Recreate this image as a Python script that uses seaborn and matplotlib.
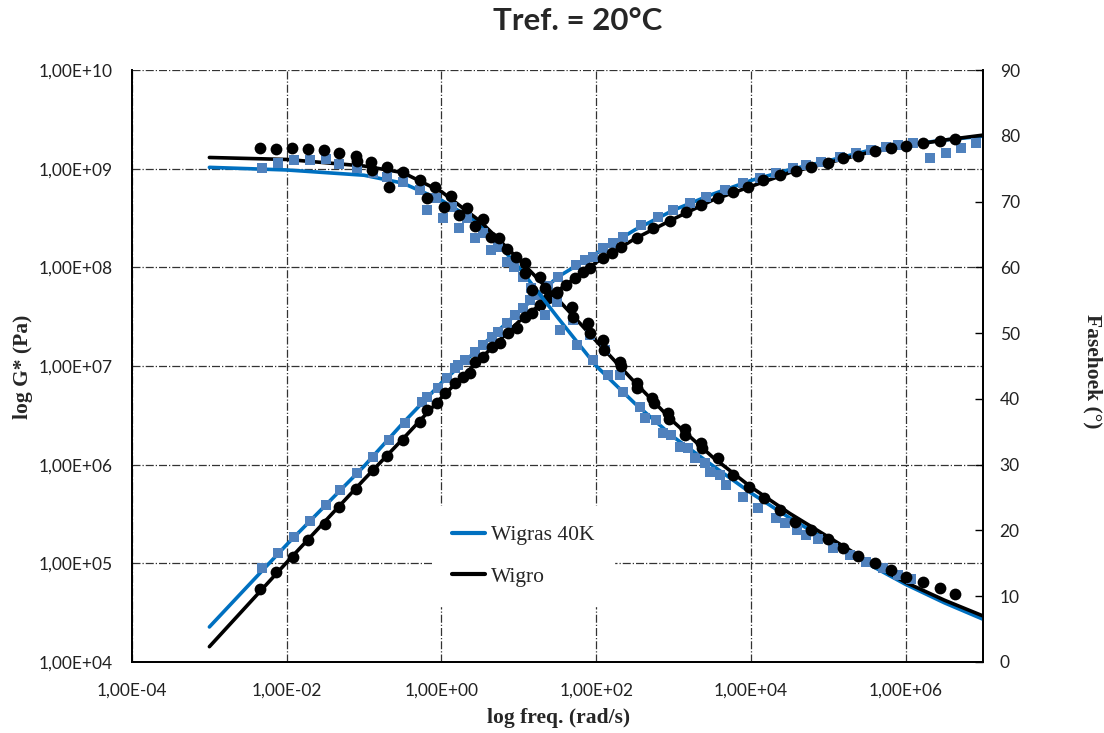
import numpy as np
import pandas as pd
import matplotlib
matplotlib.use("Agg")
import matplotlib.pyplot as plt
import seaborn as sns
from matplotlib.ticker import FixedLocator, FuncFormatter, NullLocator
from matplotlib.lines import Line2D

# --- data (log10 of frequency in rad/s) ---
# G* measured, Wigras 40K (blue squares): log10 f, log10 G*
wig_g_logf = [-2.314, -2.114, -1.907, -1.694, -1.494, -1.306, -1.093, -0.886, -0.680, -0.473,
              -0.253, -0.189, -0.047, 0.070, 0.173, 0.216, 0.302, 0.432, 0.539, 0.647, 0.733,
              0.841, 0.948, 1.056, 1.142, 1.249, 1.375, 1.508, 1.745, 1.853, 1.960, 2.089, 2.218,
              2.348, 2.585, 2.800, 2.994, 3.209, 3.425, 3.661, 3.898, 4.114, 4.329, 4.544, 4.717,
              4.911, 5.147, 5.363, 5.557, 5.751, 5.901, 6.094, 6.310, 6.526, 6.719, 6.913]
wig_g_logG = [4.950, 5.108, 5.270, 5.426, 5.594, 5.748, 5.912, 6.073, 6.250, 6.427,
              6.630, 6.686, 6.774, 6.878, 6.977, 7.010, 7.061, 7.145, 7.213, 7.297, 7.348,
              7.433, 7.517, 7.585, 7.669, 7.719, 7.810, 7.905, 8.024, 8.074, 8.108, 8.193, 8.243,
              8.310, 8.429, 8.513, 8.581, 8.649, 8.716, 8.784, 8.851, 8.902, 8.953, 9.004, 9.037,
              9.071, 9.121, 9.156, 9.189, 9.223, 9.240, 9.257, 9.111, 9.156, 9.206, 9.257]

# G* measured, Wigro (black circles)
wgo_g_logf = [-2.340, -2.140, -1.924, -1.722, -1.506, -1.322, -1.106, -0.890, -0.709, -0.495,
              -0.279, -0.193, -0.063, 0.044, 0.173, 0.280, 0.367, 0.432, 0.539, 0.647, 0.755,
              0.862, 0.970, 1.078, 1.164, 1.271, 1.375, 1.487, 1.616, 1.724, 1.831, 1.917, 2.089,
              2.198, 2.327, 2.521, 2.735, 2.951, 3.167, 3.361, 3.575, 3.769, 3.963, 4.157, 4.372,
              4.588, 4.782, 4.996, 5.190, 5.384, 5.600, 5.815, 6.009, 6.224, 6.439, 6.633]
wgo_g_logG = [4.737, 4.915, 5.067, 5.236, 5.399, 5.574, 5.750, 5.946, 6.088, 6.250,
              6.435, 6.554, 6.622, 6.730, 6.825, 6.892, 6.926, 7.044, 7.094, 7.196, 7.230,
              7.331, 7.382, 7.500, 7.534, 7.618, 7.689, 7.753, 7.821, 7.889, 7.956, 7.990, 8.091,
              8.142, 8.209, 8.300, 8.395, 8.469, 8.558, 8.632, 8.706, 8.766, 8.817, 8.885, 8.936,
              8.976, 9.020, 9.054, 9.105, 9.131, 9.179, 9.206, 9.233, 9.257, 9.283, 9.300]

# phase angle measured, Wigras 40K (blue squares): log10 f, degrees
wig_p_logf = [-2.314, -2.114, -1.903, -1.696, -1.494, -1.326, -1.096, -0.889, -0.705, -0.492,
              -0.282, -0.191, -0.070, 0.019, 0.131, 0.231, 0.332, 0.432, 0.543, 0.643, 0.731,
              0.842, 0.942, 1.054, 1.160, 1.336, 1.487, 1.530, 1.702, 1.746, 1.917, 1.960, 2.111,
              2.154, 2.305, 2.348, 2.563, 2.628, 2.779, 2.864, 2.973, 3.080, 3.187, 3.274, 3.403,
              3.468, 3.597, 3.683, 3.898, 4.092, 4.330, 4.437, 4.596, 4.717, 4.867, 5.061, 5.276,
              5.492, 5.707, 5.900, 6.070]
wig_p_deg = [75.05, 75.81, 76.27, 76.27, 76.47, 75.78, 75.17, 74.29, 73.78, 73.02,
             71.75, 68.67, 70.49, 67.45, 69.22, 65.93, 67.57, 64.41, 65.29, 62.63, 63.13,
             60.85, 60.09, 58.57, 56.90, 52.75, 54.77, 50.47, 51.99, 48.19, 49.71, 45.91, 47.43,
             43.63, 43.63, 41.09, 38.81, 37.05, 36.79, 34.77, 34.51, 32.73, 32.49, 30.97, 30.21,
             28.93, 28.43, 26.91, 25.13, 23.37, 21.85, 21.09, 20.07, 19.31, 18.65, 17.29, 16.27,
             15.25, 14.24, 13.23, 12.55]

# phase angle measured, Wigro (black circles)
wgo_p_logf = [-2.340, -2.140, -1.926, -1.724, -1.517, -1.329, -1.106, -1.096, -0.907, -0.894,
              -0.709, -0.683, -0.499, -0.282, -0.186, -0.079, 0.028, 0.124, 0.225, 0.336, 0.432,
              0.537, 0.638, 0.742, 0.853, 0.965, 1.078, 1.078, 1.164, 1.271, 1.336, 1.487, 1.681,
              1.702, 1.895, 1.917, 2.089, 2.098, 2.305, 2.315, 2.521, 2.528, 2.727, 2.744, 2.929,
              2.942, 3.145, 3.145, 3.360, 3.373, 3.575, 3.769, 3.975, 4.165, 4.372, 4.566, 4.782,
              4.996, 5.190, 5.384, 5.600, 5.815, 6.009, 6.224, 6.439, 6.633]
wgo_p_deg = [78.09, 77.94, 78.09, 77.94, 77.79, 77.33, 76.88, 76.24, 76.01, 74.75,
             75.30, 72.26, 74.54, 73.34, 70.49, 72.26, 69.17, 70.87, 67.95, 69.09, 66.28,
             67.31, 64.66, 64.41, 62.75, 61.61, 60.61, 59.09, 56.55, 58.57, 56.81, 56.05, 54.01,
             52.49, 51.49, 49.97, 48.95, 47.43, 45.65, 45.00, 42.37, 41.61, 40.09, 39.33, 37.81,
             36.90, 35.38, 34.51, 33.25, 32.49, 30.97, 28.43, 26.65, 24.89, 23.11, 21.33, 20.07,
             18.65, 17.29, 16.11, 15.00, 13.99, 12.88, 12.12, 11.20, 10.34]

# model fit curves, read at these frequencies
fit_logf = [-3, -2, -1, -0.5, 0, 0.5, 1, 1.5, 2, 2.5, 3, 3.5, 4, 4.5, 5, 5.5, 6, 6.5, 7]
wig_fit_logG = [4.355, 5.19, 5.985, 6.42, 6.83, 7.19, 7.55, 7.90, 8.14, 8.38, 8.58, 8.74,
                8.88, 8.99, 9.08, 9.18, 9.24, 9.29, 9.33]
wgo_fit_logG = [4.155, 5.01, 5.85, 6.26, 6.68, 7.07, 7.45, 7.76, 8.05, 8.29, 8.49, 8.68,
                8.82, 8.96, 9.06, 9.16, 9.23, 9.29, 9.34]
wig_fit_deg = [75.2, 74.8, 74.0, 72.8, 70.2, 66.6, 60.0, 52.4, 45.0, 39.3, 34.2, 29.9,
               25.7, 21.9, 18.4, 15.0, 11.8, 9.0, 6.5]
wgo_fit_deg = [76.7, 76.4, 75.4, 74.4, 71.5, 67.0, 61.2, 55.2, 48.8, 42.5, 36.5, 31.2,
               26.6, 22.6, 19.0, 15.4, 12.1, 9.4, 7.0]

series_names = ["Wigras 40K", "Wigro"]
line_blue = "#0070C0"
marker_blue = "#4F81BD"

sns.set_style("white")
plt.rcParams["font.family"] = ["Liberation Serif", "DejaVu Serif"]

fig = plt.figure(figsize=(11.04, 7.33), dpi=100)
ax = fig.add_axes([0.1196, 0.0969, 0.7708, 0.8076])
ax2 = ax.twinx()

def to_df(logf, vals, log_vals=False):
    f = np.power(10.0, np.array(logf))
    v = np.power(10.0, np.array(vals)) if log_vals else np.array(vals)
    return pd.DataFrame({"freq": f, "val": v})

# left axis: G*
sns.lineplot(data=to_df(fit_logf, wig_fit_logG, True), x="freq", y="val", ax=ax,
             color=line_blue, lw=2.6, sort=False, zorder=2)
sns.lineplot(data=to_df(fit_logf, wgo_fit_logG, True), x="freq", y="val", ax=ax,
             color="black", lw=2.6, sort=False, zorder=2)
sns.scatterplot(data=to_df(wig_g_logf, wig_g_logG, True), x="freq", y="val", ax=ax,
                marker="s", s=62, color=marker_blue, linewidth=0, zorder=3)
sns.scatterplot(data=to_df(wgo_g_logf, wgo_g_logG, True), x="freq", y="val", ax=ax,
                marker="o", s=72, color="black", linewidth=0, zorder=4)

# right axis: phase angle
sns.lineplot(data=to_df(fit_logf, wig_fit_deg), x="freq", y="val", ax=ax2,
             color=line_blue, lw=2.6, sort=False, zorder=2)
sns.lineplot(data=to_df(fit_logf, wgo_fit_deg), x="freq", y="val", ax=ax2,
             color="black", lw=2.6, sort=False, zorder=2)
sns.scatterplot(data=to_df(wig_p_logf, wig_p_deg), x="freq", y="val", ax=ax2,
                marker="s", s=62, color=marker_blue, linewidth=0, zorder=3)
sns.scatterplot(data=to_df(wgo_p_logf, wgo_p_deg), x="freq", y="val", ax=ax2,
                marker="o", s=72, color="black", linewidth=0, zorder=4)

ax.set_xscale("log")
ax.set_yscale("log")
ax.set_xlim(1e-4, 1e7)
ax.set_ylim(1e4, 1e10)
ax2.set_ylim(0, 90)

def sci_comma(v, pos):
    e = int(round(np.log10(v)))
    return f"1,00E{e:+03d}"

ax.xaxis.set_major_locator(FixedLocator([10.0 ** k for k in range(-4, 7, 2)]))
ax.yaxis.set_major_locator(FixedLocator([10.0 ** k for k in range(4, 11)]))
ax.xaxis.set_minor_locator(NullLocator())
ax.yaxis.set_minor_locator(NullLocator())
ax.xaxis.set_major_formatter(FuncFormatter(sci_comma))
ax.yaxis.set_major_formatter(FuncFormatter(sci_comma))
ax2.yaxis.set_major_locator(FixedLocator(list(range(0, 91, 10))))

ax.grid(True, which="major", color="#333333", linestyle="-.", linewidth=0.9)
ax2.grid(False)

for lbl in ax.get_xticklabels() + ax.get_yticklabels() + ax2.get_yticklabels():
    lbl.set_fontfamily("Lato")
    lbl.set_fontsize(12.5)
    lbl.set_color("#222222")

ax.tick_params(axis="y", length=0, pad=14)
ax.tick_params(axis="x", length=0, pad=15)
ax2.tick_params(axis="y", direction="in", length=6, width=1, pad=12, color="black")

for a in (ax, ax2):
    a.spines["top"].set_visible(False)
    for side in ("left", "bottom", "right"):
        a.spines[side].set_color("black")
        a.spines[side].set_linewidth(1.3)

ax.set_xlabel("")
ax.set_ylabel("")
ax2.set_ylabel("")
fig.text(0.5055, 0.021, "log freq. (rad/s)", fontsize=15.5, fontweight="bold",
         ha="center", va="center")
fig.text(0.021, 0.500, "log G* (Pa)", fontsize=15.5, fontweight="bold",
         rotation=90, ha="center", va="center")
fig.text(0.990, 0.493, "Fasehoek (°)", fontsize=15.5, fontweight="bold",
         rotation=270, ha="center", va="center")

fig.suptitle("Tref. = 20°C", x=0.523, y=0.99, fontsize=22.5, fontweight="bold",
             fontfamily="Lato")

handles = [Line2D([0], [0], color=line_blue, lw=3), Line2D([0], [0], color="black", lw=3)]
leg = ax2.legend(handles, series_names, loc="center", bbox_to_anchor=(0.336, 0.105, 0.248, 0.148),
                 frameon=True, facecolor="white", edgecolor="white", framealpha=1,
                 fontsize=15.5, handlelength=1.5, handletextpad=0.3, labelspacing=1.0,
                 borderpad=0.9, borderaxespad=0, fancybox=False)
leg.set_zorder(10)

fig.savefig("out.png", dpi=100)
